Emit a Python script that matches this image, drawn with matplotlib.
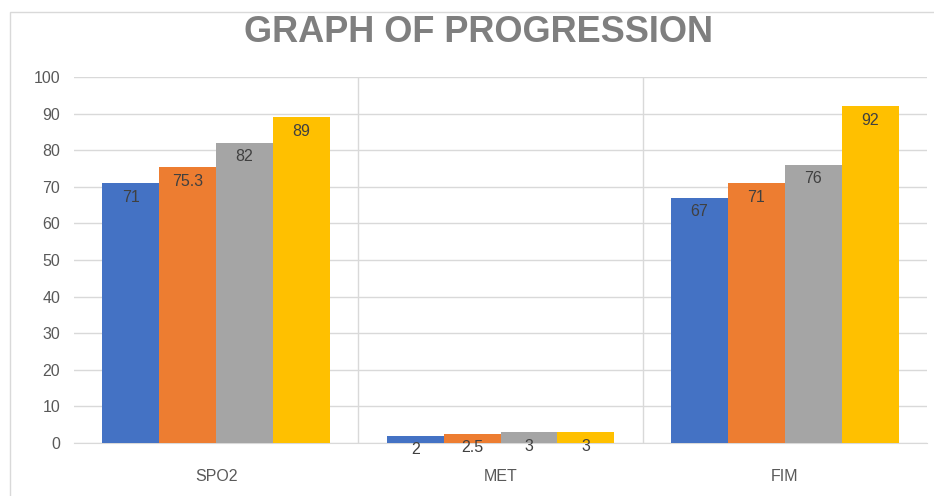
import matplotlib
matplotlib.use('Agg')
import matplotlib.pyplot as plt
import matplotlib.patches as patches
import numpy as np

categories = ['SPO2', 'MET', 'FIM']
series_1 = [71, 2, 67]
series_2 = [75.3, 2.5, 71]
series_3 = [82, 3, 76]
series_4 = [89, 3, 92]
series = [series_1, series_2, series_3, series_4]
colors = ['#4472C4', '#ED7D31', '#A5A5A5', '#FFC000']
y_ticks = list(range(0, 101, 10))

plt.rcParams['font.family'] = ['Liberation Sans', 'DejaVu Sans']

fig = plt.figure(figsize=(9.34, 4.96), dpi=100)
# light frame, only left and top edges show
fig.patches.append(patches.Rectangle((10/934, -0.1), 1.2, (496-12)/496 + 0.1,
                                     transform=fig.transFigure, fill=False,
                                     edgecolor='#d9d9d9', linewidth=1))
ax = fig.add_axes([74/934, 53/496, 853/934, 366/496])

x = np.arange(len(categories))
w = 0.2
for i, vals in enumerate(series):
    pos = x - 0.3 + i*w
    bars = ax.bar(pos, vals, width=w, color=colors[i], zorder=3)
    # value labels just inside the bar top
    for b, v in zip(bars, vals):
        ax.annotate(f'{v:g}', (b.get_x() + b.get_width()/2, v),
                    xytext=(0, -14), textcoords='offset pixels',
                    ha='center', va='center', fontsize=11.5, color='#404040', zorder=4)

ax.set_xlim(-0.5, 2.5)
ax.set_ylim(0, 100)
ax.set_yticks(y_ticks)
ax.set_xticks(x)
ax.set_xticklabels(categories)
ax.tick_params(axis='both', length=0, labelsize=11.5, labelcolor='#595959')
ax.tick_params(axis='y', pad=10)
ax.tick_params(axis='x', pad=19)
ax.grid(axis='y', color='#d9d9d9', linewidth=1, zorder=0)
for sep in [0.5, 1.5]:
    ax.axvline(sep, color='#d9d9d9', linewidth=1, zorder=0)
for s in ax.spines.values():
    s.set_visible(False)
ax.spines['bottom'].set_visible(True)
ax.spines['bottom'].set_color('#d9d9d9')

fig.text(478/934, 1 - 33/496, 'GRAPH OF PROGRESSION', ha='center', va='center',
         fontsize=26, fontweight='bold', color='#7f7f7f')

fig.savefig('out.png', dpi=100)
